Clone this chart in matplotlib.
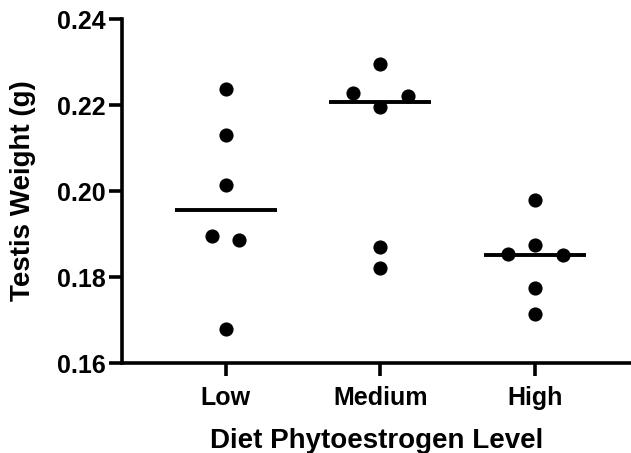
import numpy as np
import matplotlib
matplotlib.use("Agg")
import matplotlib.pyplot as plt

plt.rcParams['font.family'] = ['Liberation Sans', 'DejaVu Sans']
plt.rcParams['font.weight'] = 'bold'

groups = ["Low", "Medium", "High"]
low = [0.2238, 0.2130, 0.2015, 0.1896, 0.1886, 0.1680]
medium = [0.2295, 0.2196, 0.2227, 0.2220, 0.1869, 0.1821]
high = [0.1980, 0.1874, 0.1853, 0.1851, 0.1774, 0.1713]
y_ticks = [0.16, 0.18, 0.20, 0.22, 0.24]


def spread_offsets(values, tol=0.004, step=0.178):
    """Lay out points with similar values side by side, centred on the column."""
    vals = np.asarray(values)
    offsets = np.zeros(len(vals))
    used = np.zeros(len(vals), dtype=bool)
    for i in range(len(vals)):
        if used[i]:
            continue
        members = [j for j in range(len(vals)) if not used[j] and abs(vals[j] - vals[i]) < tol]
        for j in members:
            used[j] = True
        n = len(members)
        if n % 2 == 1:
            slots = [0.0]
            k = 1
            while len(slots) < n:
                slots += [-k, k]
                k += 1
        else:
            slots = []
            k = 0.5
            while len(slots) < n:
                slots += [-k, k]
                k += 1
        for j, s in zip(members, slots[:n]):
            offsets[j] = s * step
    return offsets


fig = plt.figure(figsize=(6.31, 4.53), dpi=100)
ax = fig.add_axes([0.193, 0.1985, 0.807, 0.7595])

for i, vals in enumerate([low, medium, high]):
    xs = i + spread_offsets(vals)
    ax.scatter(xs, vals, s=104, color="black", zorder=3, linewidths=0)
    med = np.median(vals)
    ax.plot([i - 0.33, i + 0.33], [med, med], color="black", lw=2.8, zorder=2,
            solid_capstyle="butt")

ax.set_xlim(-0.672, 2.62)
ax.set_ylim(0.16, 0.24)
ax.set_yticks(y_ticks)
ax.set_yticklabels([f"{t:.2f}" for t in y_ticks])
ax.set_xticks(range(len(groups)))
ax.set_xticklabels(groups)

for side in ["top", "right"]:
    ax.spines[side].set_visible(False)
for side in ["left", "bottom"]:
    ax.spines[side].set_linewidth(2.6)
    ax.spines[side].set_capstyle("projecting")

ax.tick_params(axis="both", width=2.6, length=9.5, labelsize=18, pad=2)
ax.tick_params(axis="x", pad=7)
for lab in ax.get_xticklabels() + ax.get_yticklabels():
    lab.set_fontweight("bold")

ax.set_ylabel("Testis Weight (g)", fontsize=20, fontweight="bold", labelpad=15)
ax.set_xlabel("Diet Phytoestrogen Level", fontsize=20, fontweight="bold", labelpad=13)

fig.savefig("out.png", dpi=100)
